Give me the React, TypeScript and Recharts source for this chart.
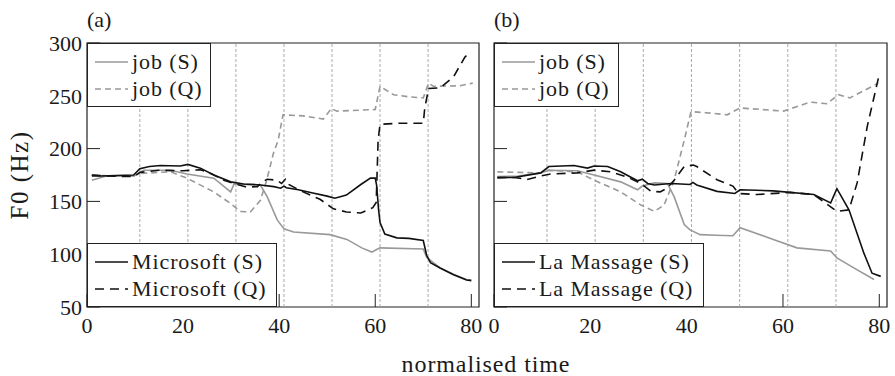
import { LineChart, Line, XAxis, YAxis, ReferenceLine, ReferenceArea } from "recharts";

type Pt = [number, number];

// axis setup
const xTicks = [0, 20, 40, 60, 80];
const yTicks = [50, 100, 150, 200, 250, 300];
const wordBounds = [11, 21, 31, 41, 51, 61, 71];

// (a) job vs Microsoft — [normalised time, F0 Hz]
const jobSA: Pt[] = [
  [1, 170], [4, 174], [9.7, 174], [11.8, 179.5], [17.4, 179.5], [20.8, 176], [26.4, 172],
  [29.9, 159], [30.6, 166.5], [36.1, 165.5], [37.5, 154.5], [39.6, 132.5], [41, 124],
  [43, 121], [50.6, 118.5], [54.1, 114], [57.2, 106], [59.3, 102], [60.3, 104.5], [61, 106],
  [70, 105], [70.7, 97], [73.5, 87], [76.3, 81], [79, 76], [80, 75.5],
];
const jobQA: Pt[] = [
  [1, 175], [5, 174], [9.7, 174], [11.1, 176.5], [17.4, 178], [20.8, 172], [26.4, 159],
  [29.9, 148], [31.9, 140.5], [34, 140], [36.1, 151], [37.4, 170], [38.8, 195.5], [39.8, 208],
  [40.8, 232], [45, 231], [49.2, 228], [50.9, 238], [52, 235.5], [60, 237], [61, 259],
  [63.8, 251], [67, 249], [70, 248], [71.1, 262], [72.1, 259], [77.6, 259.5], [80.3, 262],
];
const microsoftS: Pt[] = [
  [1, 174], [3, 174], [6, 174.5], [9.7, 175], [11, 181], [13, 183], [15.3, 184], [19.4, 183.5],
  [21, 185], [23.6, 181.5], [26.4, 175], [29.9, 168.5], [32.6, 166.5], [36.1, 165.6],
  [38.9, 164], [40.3, 162.5], [41, 164.5], [41.5, 163], [44, 161], [47, 158], [50, 155],
  [51.6, 153], [54, 156], [57, 166], [59, 172], [60, 172], [60.3, 165], [60.7, 142], [61, 130],
  [62, 119], [64.5, 115.5], [67, 115], [70, 113], [70.7, 99], [71.5, 92], [73.5, 87],
  [76.3, 80.5], [79, 75.5], [80, 75],
];
const microsoftQ: Pt[] = [
  [1, 175], [4, 174], [9.7, 173.5], [11.1, 177.5], [15, 179.5], [20, 179], [23.6, 180],
  [26, 176], [28.5, 170], [30.5, 167], [33.3, 163.5], [35.5, 164], [36.2, 167.5], [37.5, 171],
  [39.5, 170], [40.5, 167], [41.3, 171], [42, 166], [44.5, 160], [48.5, 152], [51.3, 143],
  [54, 140], [57, 139], [59.5, 144], [60.2, 149], [60.6, 208], [61, 223], [65, 224], [70, 224],
  [70.3, 238], [71.1, 257], [73.5, 257.5], [76.3, 268], [78.7, 287], [80, 291],
];

// (b) job vs La Massage
const jobSB: Pt[] = [
  [0.7, 173.5], [5, 174], [9.7, 177], [11.4, 179.5], [17.3, 179], [20.8, 175], [26.3, 168.5],
  [29.8, 161], [30.8, 164.5], [33.3, 167.5], [36, 167], [37.4, 154.5], [39.5, 128],
  [40.7, 123], [42.8, 118.5], [46, 118], [49.6, 117.5], [51.1, 125], [58, 114], [62.9, 106],
  [69.9, 103], [71.2, 96.5], [74.7, 87], [78.9, 76],
];
const jobQB: Pt[] = [
  [0.7, 178], [5, 177.5], [9.7, 177], [11.4, 179.5], [17.3, 178], [20.8, 170], [26.3, 159],
  [30.5, 146.5], [33.3, 140.5], [35.3, 146.5], [37.4, 170], [39.5, 208], [40.9, 235], [44, 234],
  [48.4, 232], [51.1, 238.5], [60.1, 235.5], [65.6, 244], [69.1, 242.5], [71.5, 251],
  [73.9, 248], [79.8, 262],
];
const massageS: Pt[] = [
  [0.7, 172.5], [4.2, 172.7], [9.7, 177], [11.4, 183], [16.6, 184], [19.4, 181.5],
  [20.8, 183.5], [23.6, 183], [26.3, 178], [29.8, 169.5], [30.8, 171], [31.9, 167],
  [33.3, 165.5], [36.7, 167], [38.8, 166.5], [40.7, 166], [41.3, 168], [42.1, 165.5],
  [46.3, 159.5], [50, 157.5], [51.1, 161], [58, 160], [66.4, 156.5], [69.9, 148.5],
  [70.6, 156], [71.2, 162], [73.7, 142], [76.8, 101], [78.5, 82], [80.3, 79],
];
const massageQ: Pt[] = [
  [0.7, 172.5], [4.2, 172.7], [6.9, 170.8], [9.7, 174], [11.8, 176], [17.3, 177], [20.8, 179.6],
  [24.3, 178], [27.7, 173], [30.5, 167], [32.6, 159.5], [34.5, 159], [35.9, 162.5],
  [37.4, 170], [39.5, 183], [41.4, 184.5], [42.1, 183], [46.3, 170.5], [49.6, 164.5],
  [50.8, 157.5], [54.6, 156.5], [61.4, 158.5], [66.4, 156.5], [71.2, 140.5], [73.7, 142],
  [75.4, 167.5], [77.5, 221], [79.9, 268.5],
];

const FONT = '"Liberation Serif", "Times New Roman", serif';
const GREY = "#999";
const INK = "#111";
const TEXT = "#1a1a1a";

type Series = { name: string; pts: Pt[]; color: string; dash?: string };

const panelA: Series[] = [
  { name: "job (S)", pts: jobSA, color: GREY },
  { name: "job (Q)", pts: jobQA, color: GREY, dash: "6 4" },
  { name: "Microsoft (S)", pts: microsoftS, color: INK },
  { name: "Microsoft (Q)", pts: microsoftQ, color: INK, dash: "9 6" },
];
const panelB: Series[] = [
  { name: "job (S)", pts: jobSB, color: GREY },
  { name: "job (Q)", pts: jobQB, color: GREY, dash: "6 4" },
  { name: "La Massage (S)", pts: massageS, color: INK },
  { name: "La Massage (Q)", pts: massageQ, color: INK, dash: "9 6" },
];

const toRows = (pts: Pt[]) => pts.map(([t, f0]) => ({ t, f0 }));

function Panel({ series, left, showY }: { series: Series[]; left: number; showY: boolean }) {
  return (
    <div style={{ position: "absolute", left, top: 0 }}>
      <LineChart width={showY ? 485 : 488} height={376} margin={{ top: 43, right: showY ? 6 : 8, bottom: 0, left: 0 }}>
        <XAxis
          dataKey="t"
          type="number"
          domain={[0, 81.6]}
          ticks={xTicks}
          height={69}
          axisLine={false}
          tickSize={-13}
          tickMargin={23}
          tickLine={{ stroke: "#222" }}
          tick={{ fill: TEXT, fontSize: 22, fontFamily: FONT }}
        />
        <YAxis
          type="number"
          domain={[50, 300]}
          ticks={yTicks}
          width={87}
          axisLine={false}
          tickSize={-13}
          tickMargin={18}
          tickLine={{ stroke: "#222" }}
          tickFormatter={(v) => (showY ? String(v) : "")}
          tick={{ fill: TEXT, fontSize: 22, fontFamily: FONT }}
        />
        {wordBounds.map((b) => (
          <ReferenceLine key={b} x={b} stroke="#aaa" strokeWidth={1} strokeDasharray="3 2" />
        ))}
        {series.map((s) => (
          <Line
            key={s.name}
            data={toRows(s.pts)}
            dataKey="f0"
            type="linear"
            stroke={s.color}
            strokeWidth={1.6}
            strokeDasharray={s.dash}
            dot={false}
            isAnimationActive={false}
          />
        ))}
        <ReferenceArea x1={0} x2={81.6} y1={50} y2={300} fill="none" stroke="#222" strokeWidth={1.2} />
      </LineChart>
    </div>
  );
}

function LegendBox({ items, left, top, width }: { items: Series[]; left: number; top: number; width: number }) {
  return (
    <div
      style={{
        position: "absolute",
        left,
        top,
        width,
        height: 64,
        boxSizing: "border-box",
        border: "1.2px solid #222",
        background: "#fff",
        paddingTop: 4,
      }}
    >
      {items.map((s) => (
        <div key={s.name} style={{ display: "flex", alignItems: "center", height: 27 }}>
          <svg width={44} height={10} style={{ flex: "none" }}>
            <line x1={7} x2={40} y1={5} y2={5} stroke={s.color} strokeWidth={1.6} strokeDasharray={s.dash} />
          </svg>
          <span style={{ fontFamily: FONT, fontSize: 22, letterSpacing: 0.9, color: TEXT, whiteSpace: "nowrap" }}>
            {s.name}
          </span>
        </div>
      ))}
    </div>
  );
}

const label = { position: "absolute" as const, fontFamily: FONT, color: TEXT, whiteSpace: "nowrap" as const };

export default function App() {
  return (
    <div style={{ position: "absolute", left: 0, top: 0, width: 895, height: 376, background: "#fff", overflow: "hidden" }}>
      <Panel series={panelA} left={0} showY />
      <Panel series={panelB} left={407} showY={false} />

      <LegendBox items={panelA.slice(0, 2)} left={87} top={43} width={124} />
      <LegendBox items={panelA.slice(2)} left={87} top={243} width={190} />
      <LegendBox items={panelB.slice(0, 2)} left={494} top={43} width={125} />
      <LegendBox items={panelB.slice(2)} left={494} top={243} width={210} />

      <div style={{ ...label, left: 87, top: 7, fontSize: 22 }}>(a)</div>
      <div style={{ ...label, left: 494, top: 7, fontSize: 22 }}>(b)</div>
      <div
        style={{
          ...label,
          left: 20,
          top: 175,
          fontSize: 25,
          letterSpacing: 1.5,
          transform: "translate(-50%, -50%) rotate(-90deg)",
        }}
      >
        F0 (Hz)
      </div>
      <div
        style={{
          ...label,
          left: 486,
          top: 354,
          fontSize: 24,
          lineHeight: "20px",
          letterSpacing: 0.9,
          transform: "translateX(-50%)",
        }}
      >
        normalised time
      </div>
    </div>
  );
}
